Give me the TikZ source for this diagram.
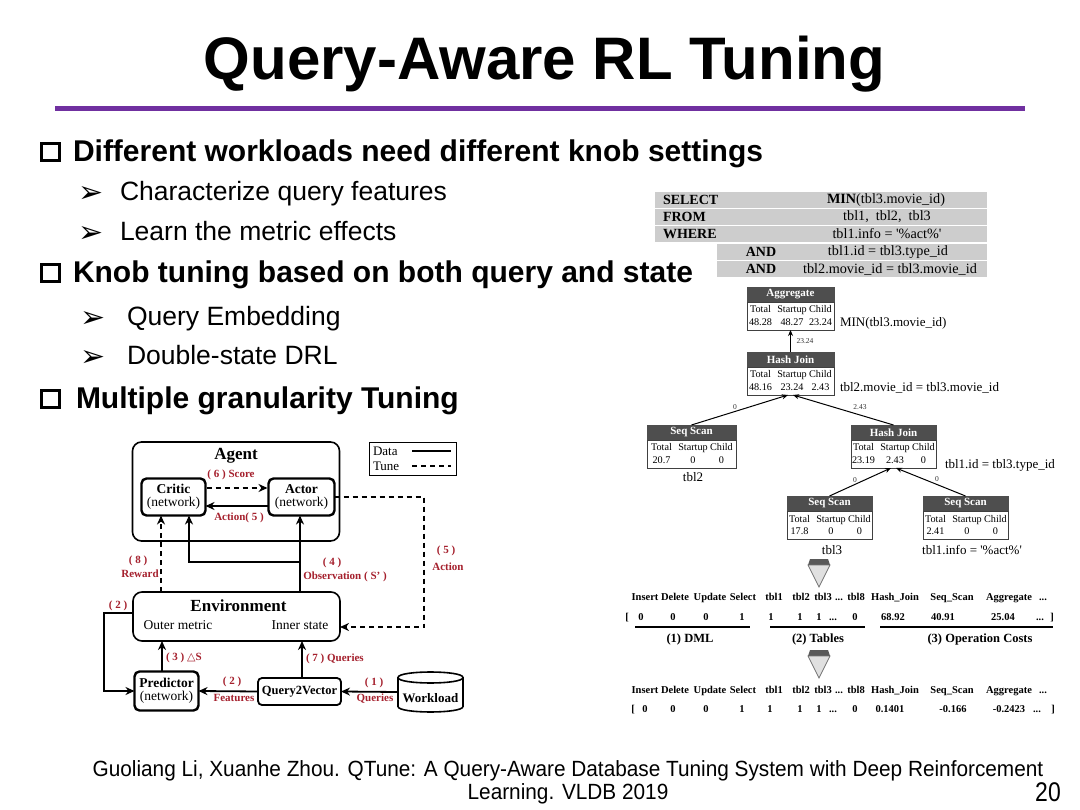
\documentclass[tikz,border=0pt]{standalone}
\usepackage{fontspec}
\setmainfont{Liberation Serif}
\newfontfamily\arial{Liberation Sans}
\newfontfamily\djv{DejaVu Sans}
\usetikzlibrary{arrows.meta,calc}
\definecolor{slidepurple}{RGB}{112,48,160}
\definecolor{lblred}{RGB}{165,32,45}
\definecolor{hdrgray}{RGB}{78,78,78}
\definecolor{sqlgray}{RGB}{205,205,205}
\newcommand{\fsz}[1]{\fontsize{#1}{#1}\selectfont}
\newcommand{\tdots}{...}
\newcommand{\pnode}[8]{%
  \node[phead, minimum width=#4] (#1h) at ({#2},{#3+7.5}) {#5};
  \node[pbody, minimum width=#4, anchor=north] (#1) at (#1h.south) {};
  \node[pcell] (#1a) at ({#2-30},{#3+26}) {Total};
  \node[pcell] (#1b) at ({#2+1.5},{#3+26}) {Startup};
  \node[pcell] (#1c) at ({#2+30},{#3+26}) {Child};
  \node[pcell] (#1d) at ({#2-30},{#3+38.5}) {#6};
  \node[pcell] (#1e) at ({#2+1.5},{#3+38.5}) {#7};
  \node[pcell] (#1f) at ({#2+30},{#3+38.5}) {#8};
}
\begin{document}
\begin{tikzpicture}[x=1pt,y=-1pt,
  every node/.style={inner sep=0pt, outer sep=0pt},
  head1/.style={font=\arial\bfseries\fsz{30}, anchor=base west},
  head2/.style={font=\arial\fsz{26.5}, anchor=base west},
  arrowbullet/.style={font=\djv\fsz{30}, anchor=base west},
  sqbullet/.style={draw, line width=3pt, minimum width=18pt, minimum height=17pt},
  netbox/.style={draw, line width=2.4pt, rounded corners=5pt, align=center, font=\fsz{13.5}},
  roundbox/.style={draw, line width=1.6pt, rounded corners=9pt},
  lbl/.style={text=lblred, font=\bfseries\fsz{11}, align=center},
  data/.style={line width=1.8pt, -{Stealth[length=9pt,width=8pt]}},
  tune/.style={line width=1.8pt, dash pattern=on 5pt off 4pt, -{Stealth[length=9pt,width=8pt]}},
  phead/.style={fill=hdrgray, draw=hdrgray, text=white, font=\bfseries\fsz{11}, minimum height=15pt},
  pbody/.style={draw=black!75, line width=0.8pt, fill=white, minimum height=28pt},
  pcell/.style={font=\fsz{10.2}, anchor=base},
  planedge/.style={line width=1pt, -{Stealth[length=6pt,width=5pt]}},
  elbl/.style={font=\fsz{7.5}, text=black!80},
  sql/.style={font=\fsz{13}},
  sqlrow/.style={font=\fsz{14.2}},
  kw/.style={font=\bfseries\fsz{14}},
  vhead/.style={font=\bfseries\fsz{10.5}, anchor=base},
  grp/.style={font=\bfseries\fsz{12.5}},
  cyl/.style={line width=1.6pt},
]
\useasboundingbox (0,0) rectangle (1080,810);
\fill[white] (0,0) rectangle (1080,810);

% ---------- title ----------
\node[font=\arial\bfseries\fsz{60}, anchor=base] (title) at (544.5,80) {Query-Aware RL Tuning};
\draw[slidepurple, line width=5pt] (55,109) -- (1025,109);

% ---------- bullets ----------
\node[sqbullet] (sq1) at (50,152) {};
\node[head1] (b1) at (73,162) {Different workloads need different knob settings};
\node[arrowbullet] (a1) at (78,203) {➢};
\node[head2] (s1) at (120,201) {Characterize query features};
\node[arrowbullet] (a2) at (78,243) {➢};
\node[head2] (s2) at (120,241) {Learn the metric effects};
\node[sqbullet] (sq2) at (50,273) {};
\node[head1] (b2) at (73,283) {Knob tuning based on both query and state};
\node[arrowbullet] (a3) at (80,328) {➢};
\node[head2] (s3) at (127,326) {Query Embedding};
\node[arrowbullet] (a4) at (80,367) {➢};
\node[head2] (s4) at (127,365) {Double-state DRL};
\node[sqbullet] (sq3) at (50,399) {};
\node[head1] (b3) at (76,409) {Multiple granularity Tuning};

% ---------- left diagram ----------
\node[roundbox, minimum width=207pt, minimum height=99pt] (agent) at (236,491.5) {};
\node[font=\bfseries\fsz{17}] (agentlbl) at (236,456) {Agent};
\node[netbox, minimum width=64pt, minimum height=37pt] (critic) at (173.5,497) {\textbf{Critic}\\(network)};
\node[netbox, minimum width=66pt, minimum height=37pt] (actor) at (301.5,497) {\textbf{Actor}\\(network)};
\draw[tune] ($(critic.east)+(1,-9)$) -- ($(actor.west)+(-1,-9)$);
\draw[data] ($(actor.west)+(0,9)$) -- ($(critic.east)+(0,9)$);
\node[lbl] (l6) at (231,475) {( 6 ) Score};
\node[lbl] (l5a) at (239,518) {Action( 5 )};

\node[draw, line width=1pt, minimum width=87pt, minimum height=33pt] (legend) at (413,459.5) {};
\node[font=\fsz{13}, anchor=west] (lgdata) at (373,451) {Data};
\node[font=\fsz{13}, anchor=west] (lgtune) at (373,466) {Tune};
\draw[line width=1.8pt] (412,451) -- (451,451);
\draw[line width=1.8pt, dash pattern=on 5pt off 4pt] (412,466) -- (451,466);

\node[roundbox, minimum width=207pt, minimum height=49pt] (env) at (236.5,616.5) {};
\node[font=\bfseries\fsz{17}] (envlbl) at (238.5,606) {Environment};
\node[font=\fsz{13.5}] (outer) at (178,625) {Outer metric};
\node[font=\fsz{13.5}] (inner) at (300,625) {Inner state};

\node[netbox, minimum width=64pt, minimum height=39pt] (pred) at (166.5,691) {\textbf{Predictor}\\(network)};
\node[draw, line width=1.8pt, rounded corners=4pt, minimum width=83pt, minimum height=27pt, font=\bfseries\fsz{12.5}] (q2v) at (299.5,691.5) {Query2Vector};
\node[minimum width=65pt, minimum height=40pt] (workload) at (430.5,692) {};
\draw[cyl] (398,677.5) .. controls (398,670.2) and (463,670.2) .. (463,677.5) .. controls (463,684.8) and (398,684.8) .. (398,677.5) -- cycle;
\draw[cyl] (398,677.5) -- (398,706.5) .. controls (398,713.8) and (463,713.8) .. (463,706.5) -- (463,677.5);
\node[font=\bfseries\fsz{13}] (wltext) at (430.5,698) {Workload};

\draw[data] (workload.west) -- (q2v.east);
\node[lbl] (l1a) at (374,683) {( 1 )};
\node[lbl] (l1b) at (375,699) {Queries};
\draw[data] (q2v.west) -- (pred.east);
\node[lbl] (l2b) at (232,682) {( 2 )};
\node[lbl] (lfeat) at (234,698) {Features};
\coordinate (p3) at (162,0);
\draw[data] (pred.north -| p3) -- (env.south -| p3);
\node[lbl, anchor=west] (l3) at (166,658) {( 3 ) {\djv\mdseries △}S};
\coordinate (p7) at (302,0);
\draw[data] (q2v.north -| p7) -- (env.south -| p7);
\node[lbl, anchor=west] (l7) at (306,659) {( 7 ) Queries};
\coordinate (c2) at (104,613);
\draw[data] (env.west |- c2) -- (c2) |- (pred.west);
\node[lbl] (l2a) at (118,606) {( 2 )};
\coordinate (rw) at (161,0);
\draw[tune] (env.north -| rw) -- (critic.south -| rw);
\node[lbl] (l8a) at (138,561) {( 8 )};
\node[lbl] (l8b) at (140,574) {Reward};
\coordinate (obs) at (300,562);
\coordinate (obsl) at (189,562);
\draw[data] (env.north -| obs) -- (actor.south -| obs);
\draw[data] (obs) -- (obsl) -- (critic.south -| obsl);
\node[lbl] (l4a) at (332,563) {( 4 )};
\node[lbl] (l4b) at (345,577) {Observation ( S' )};
\coordinate (actc) at (424,627);
\draw[tune] (actor.east) -| (actc) -- (env.east |- actc);
\node[lbl] (l5b1) at (446,551) {( 5 )};
\node[lbl] (l5b2) at (448,567) {Action};

% ---------- SQL ----------
\fill[sqlgray] (655,192) rectangle (987,208);
\fill[sqlgray] (655,209.5) rectangle (987,225);
\fill[sqlgray] (655,226.5) rectangle (987,242);
\fill[sqlgray] (717,244) rectangle (987,260);
\fill[sqlgray] (717,261.5) rectangle (987,277);
\node[kw, anchor=west] (kselect) at (663,200) {SELECT};
\node[kw, anchor=west] (kfrom) at (663,217) {FROM};
\node[kw, anchor=west] (kwhere) at (663,234) {WHERE};
\node[kw] (kand1) at (761,252) {AND};
\node[kw] (kand2) at (761,269) {AND};
\node[sqlrow] (q1) at (886,200) {\textbf{MIN}(tbl3.movie\_id)};
\node[sqlrow] (q2) at (887,217) {tbl1,\ \ tbl2,\ \ tbl3};
\node[sqlrow] (q3) at (887,234) {tbl1.info = \textquotesingle\%act\%\textquotesingle};
\node[sqlrow] (q4) at (888,252) {tbl1.id = tbl3.type\_id};
\node[sqlrow] (q5) at (890,269) {tbl2.movie\_id = tbl3.movie\_id};

% ---------- plan tree ----------
\pnode{agg}{790.5}{287}{87}{Aggregate}{48.28}{48.27}{23.24}
\pnode{hjA}{790.5}{352}{87}{Hash Join}{48.16}{23.24}{2.43}
\pnode{ssB}{691.5}{425}{89}{Seq Scan}{20.7}{0}{0}
\pnode{hjC}{893.5}{425}{85}{Hash Join}{23.19}{2.43}{0}
\pnode{ssD}{829.5}{496}{85}{Seq Scan}{17.8}{0}{0}
\pnode{ssE}{965.5}{496}{85}{Seq Scan}{2.41}{0}{0}

\node[sql, anchor=west] (aggl) at (840,323) {MIN(tbl3.movie\_id)};
\node[sql, anchor=west] (hjAl) at (840,388) {tbl2.movie\_id = tbl3.movie\_id};
\node[sql] (ssBl) at (693,477) {tbl2};
\node[sql, anchor=west] (hjCl) at (945,465) {tbl1.id = tbl3.type\_id};
\node[sql] (ssDl) at (832,550) {tbl3};
\node[sql] (ssEl) at (972,550) {tbl1.info = \textquotesingle\%act\%\textquotesingle};

\draw[planedge] (hjAh.north) -- (agg.south);
\draw[planedge] (ssBh.north) -- ($(hjA.south)+(-2.5,0)$);
\draw[planedge] (hjCh.north) -- ($(hjA.south)+(2.5,0)$);
\draw[planedge] (ssDh.north) -- ($(hjC.south)+(-2.5,0)$);
\draw[planedge] (ssEh.north) -- ($(hjC.south)+(2.5,0)$);
\node[elbl] (e1) at (805,341) {23.24};
\node[elbl] (e2) at (735,407) {0};
\node[elbl] (e3) at (860,407) {2.43};
\node[elbl] (e4) at (855,480) {0};
\node[elbl] (e5) at (937,479) {0};

% ---------- encoding arrows ----------
\fill[black!65] (810,559) -- (828,559) -- (830,565) -- (808,565) -- cycle;
\filldraw[fill=black!12, draw=black!55, line width=0.8pt] (808,565) -- (830,565) -- (819,587) -- cycle;
\fill[black!65] (810,650) -- (828,650) -- (830,656) -- (808,656) -- cycle;
\filldraw[fill=black!12, draw=black!55, line width=0.8pt] (808,656) -- (830,656) -- (819,678) -- cycle;

% ---------- vectors ----------
\foreach \x/\t [count=\i] in {645/Insert, 675/Delete, 710/Update, 743/Select, 774/tbl1, 801/tbl2, 823/tbl3, 839/\tdots, 856/tbl8, 895/Hash\_Join, 952/Seq\_Scan, 1009/Aggregate, 1043/\tdots} {
  \node[vhead] (ha\i) at (\x,600.7) {\t};
  \node[vhead] (hb\i) at (\x,693.7) {\t};
}
\foreach \x/\t [count=\i] in {627/{[}, 641/0, 673/0, 706/0, 742/1, 771/1, 800/1, 819/1, 833/\tdots, 855/0, 893/68.92, 943/40.91, 1003/25.04, 1040/\tdots, 1052/{]}} {
  \node[vhead] (va\i) at (\x,620.7) {\t};
}
\foreach \x/\t [count=\i] in {633/{[}, 645/0, 673/0, 706/0, 742/1, 770/1, 800/1, 819/1, 833/\tdots, 855/0, 890/0.1401, 953/-0.166, 1009/-0.2423, 1037/\tdots, 1053/{]}} {
  \node[vhead] (vb\i) at (\x,712.7) {\t};
}
\draw[line width=1.3pt] (635,627) -- (750,627);
\draw[line width=1.3pt] (770,627) -- (865,627);
\draw[line width=1.3pt] (880,627) -- (1053,627);
\node[grp] (g1) at (690,639) {(1) DML};
\node[grp] (g2) at (818,639) {(2) Tables};
\node[grp] (g3) at (980,639) {(3) Operation Costs};

% ---------- citation ----------
\node[font=\arial\fsz{22}, anchor=base, xscale=0.945] (cite1) at (568,776) {Guoliang Li, Xuanhe Zhou. QTune: A Query-Aware Database Tuning System with Deep Reinforcement};
\node[font=\arial\fsz{22}, anchor=base, xscale=0.945] (cite2) at (568,799) {Learning. VLDB 2019};
\node[font=\arial\fsz{27}, anchor=base, xscale=0.85] (pg) at (1048,801) {20};
\end{tikzpicture}
\end{document}
